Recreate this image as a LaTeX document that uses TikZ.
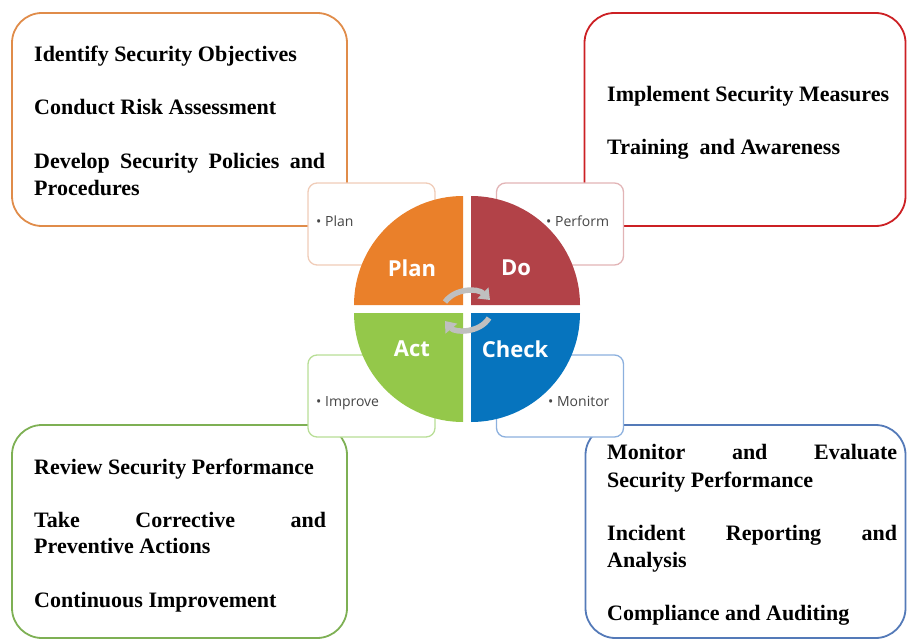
\documentclass[tikz,border=0pt]{standalone}
\usepackage{fontspec}
\setmainfont{Liberation Serif}
\newfontfamily\labelfont{Open Sans}
\usetikzlibrary{arrows.meta}
\definecolor{cOrange}{RGB}{224,140,74}
\definecolor{cRed}{RGB}{204,32,36}
\definecolor{cGreen}{RGB}{126,176,84}
\definecolor{cBlue}{RGB}{84,122,184}
\definecolor{lOrange}{RGB}{240,204,184}
\definecolor{lRed}{RGB}{226,180,182}
\definecolor{lGreen}{RGB}{184,222,150}
\definecolor{lBlue}{RGB}{140,176,222}
\definecolor{qPlan}{RGB}{234,128,42}
\definecolor{qDo}{RGB}{178,66,72}
\definecolor{qAct}{RGB}{148,200,74}
\definecolor{qCheck}{RGB}{6,116,190}
\definecolor{stxt}{RGB}{70,70,70}
\begin{document}
\begin{tikzpicture}[x=1pt,y=1pt,
  bigbox/.style={draw, line width=1.8pt, rounded corners=30pt, inner sep=0pt},
  smallbox/.style={draw, fill=white, line width=1.3pt, rounded corners=9pt, inner sep=0pt,
    minimum width=127pt, minimum height=82pt},
  btext/.style={anchor=base west, inner sep=0pt, font=\fontsize{22}{26}\selectfont\bfseries},
  qlabel/.style={text=white, font=\labelfont\fontsize{22}{26}\selectfont\bfseries, inner sep=0pt},
  stext/.style={anchor=base west, inner sep=0pt, text=stxt, font=\labelfont\fontsize{14}{16}\selectfont},
  cyc/.style={line width=5.5pt, draw=gray!50, -{Triangle[length=10pt,width=15pt]}}
]
\useasboundingbox (0,0) rectangle (909,-639);

% big boxes
\node[bigbox, draw=cOrange, minimum width=335pt, minimum height=213pt] (tl) at (179.5,-119.5) {};
\node[bigbox, draw=cRed, minimum width=321pt, minimum height=213pt] (tr) at (745,-119.5) {};
\node[bigbox, draw=cGreen, minimum width=335pt, minimum height=213pt] (bl) at (179.5,-531.5) {};
\node[bigbox, draw=cBlue, minimum width=320pt, minimum height=213pt] (br) at (745.5,-531.5) {};

% texts top-left
\node[btext] (tl1) at (34,-62) {Identify Security Objectives};
\node[btext] (tl2) at (34,-115) {Conduct Risk Assessment};
\node[btext] (tl3) at (34,-168) {\makebox[291pt][s]{Develop Security Policies and}};
\node[btext] (tl4) at (34,-195) {Procedures};
% texts top-right
\node[btext] (tr1) at (607,-102) {Implement Security Measures};
\node[btext] (tr2) at (607,-155) {Training\ \ and Awareness};
% texts bottom-left
\node[btext] (bl1) at (34,-474) {Review Security Performance};
\node[btext] (bl2) at (34,-527) {\makebox[292pt][s]{Take Corrective and}};
\node[btext] (bl3) at (34,-553) {Preventive Actions};
\node[btext] (bl4) at (34,-607) {Continuous Improvement};
% texts bottom-right
\node[btext] (br1) at (607,-459) {\makebox[290pt][s]{Monitor and Evaluate}};
\node[btext] (br2) at (607,-487) {Security Performance};
\node[btext] (br3) at (607,-540) {\makebox[290pt][s]{Incident Reporting and}};
\node[btext] (br4) at (607,-567) {Analysis};
\node[btext] (br5) at (607,-620) {Compliance and Auditing};

% small boxes
\node[smallbox, draw=lOrange] (sp) at (371.5,-224) {};
\node[smallbox, draw=lRed] (sd) at (560,-224) {};
\node[smallbox, draw=lGreen] (sa) at (371.5,-396) {};
\node[smallbox, draw=lBlue] (sc) at (560,-396) {};
\node[stext] (tp) at (316,-226) {\textbullet\ Plan};
\node[stext] (td) at (546,-226) {\textbullet\ Perform};
\node[stext] (ta) at (316,-406) {\textbullet\ Improve};
\node[stext] (tc) at (548,-406) {\textbullet\ Monitor};

% circle quadrants
\fill[qPlan] (463,-305) -- ++(-109,0) arc[start angle=180,end angle=90,radius=109] -- cycle;
\fill[qDo] (471,-305) -- ++(109,0) arc[start angle=0,end angle=90,radius=109] -- cycle;
\fill[qAct] (463,-313) -- ++(-109,0) arc[start angle=180,end angle=270,radius=109] -- cycle;
\fill[qCheck] (471,-313) -- ++(109,0) arc[start angle=0,end angle=-90,radius=109] -- cycle;

\node[qlabel] (lp) at (412,-268) {Plan};
\node[qlabel] (ld) at (516,-268) {Do};
\node[qlabel] (la) at (412,-349) {Act};
\node[qlabel] (lc) at (515,-349) {Check};

% cycle arrows
\coordinate (u1) at (445,-302);
\coordinate (u2) at (490,-300);
\coordinate (d1) at (489,-318);
\coordinate (d2) at (445,-321);
\draw[cyc] (u1) .. controls (455,-288) and (478,-288) .. (u2);
\draw[cyc] (d1) .. controls (480,-333) and (455,-333) .. (d2);
\end{tikzpicture}
\end{document}
